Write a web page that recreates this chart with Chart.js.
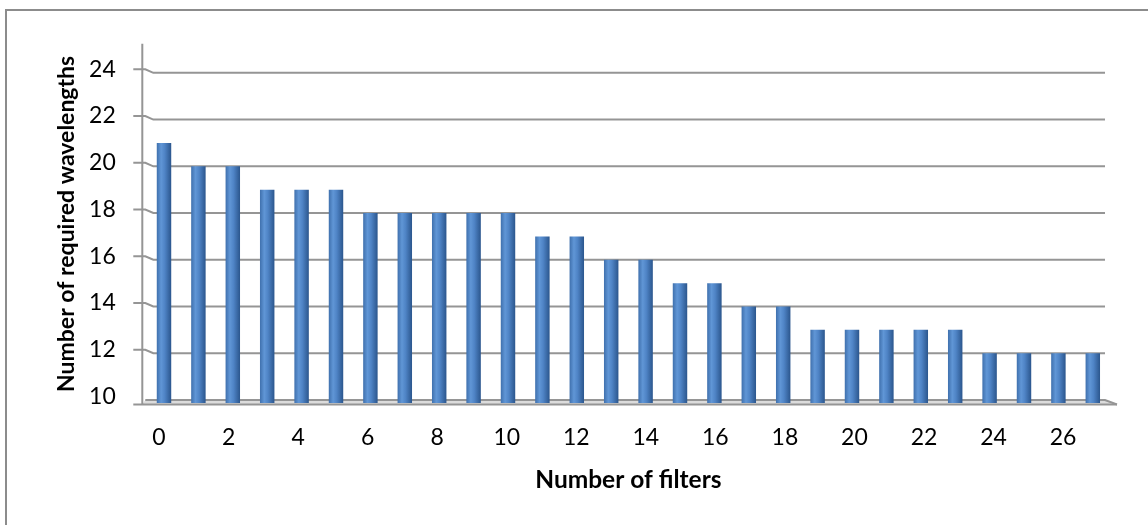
<!DOCTYPE html>
<html>
<head>
<meta charset="utf-8">
<script src="https://cdn.jsdelivr.net/npm/chart.js@4/dist/chart.umd.min.js"></script>
<style>
  html, body { margin: 0; padding: 0; background: #ffffff; }
  #wrap { width: 1148px; height: 525px; position: relative; }
</style>
</head>
<body>
<div id="wrap"><canvas id="chart" width="1148" height="525"></canvas></div>
<script>
// Number of filters (x) and required wavelengths (bar heights)
const filterCounts = [0,1,2,3,4,5,6,7,8,9,10,11,12,13,14,15,16,17,18,19,20,21,22,23,24,25,26,27];
const wavelengths  = [21,20,20,19,19,19,18,18,18,18,18,17,17,16,16,15,15,14,14,13,13,13,13,13,12,12,12,12];
const yTickValues  = [10,12,14,16,18,20,22,24];
const xTickValues  = [0,2,4,6,8,10,12,14,16,18,20,22,24,26];

const FONT = 'Lato, "Open Sans", "DejaVu Sans", sans-serif';
const GRID = '#959595';
const BAR_FRACTION = 0.42;

// white page with a grey outline
const framePlugin = {
  id: 'frame',
  beforeDraw(chart) {
    const ctx = chart.ctx;
    ctx.save();
    ctx.fillStyle = '#ffffff';
    ctx.fillRect(0, 0, chart.width, chart.height);
    ctx.strokeStyle = '#8c8c8c';
    ctx.lineWidth = 2;
    ctx.strokeRect(6, 10, chart.width + 20, chart.height + 20);
    ctx.restore();
  }
};

// back wall gridlines, value axis with depth ticks, and the floor slab
const wallPlugin = {
  id: 'wall',
  beforeDatasetsDraw(chart) {
    const ctx = chart.ctx;
    const ys = chart.scales.y;
    const area = chart.chartArea;
    const axisX = area.left - 4.5;
    const wallL = area.left + 6.5;
    const wallR = area.right - 5;
    ctx.save();
    ctx.lineCap = 'butt';
    ctx.strokeStyle = GRID;
    ctx.lineWidth = 2;

    yTickValues.forEach(v => {
      const py = ys.getPixelForValue(v);
      if (v === yTickValues[0]) return;
      ctx.beginPath();
      ctx.moveTo(axisX - 9, py - 3.5);
      ctx.lineTo(axisX + 3, py - 3.5);
      ctx.lineTo(wallL, py);
      ctx.lineTo(wallR, py);
      ctx.stroke();
    });

    // floor
    const back = ys.getPixelForValue(yTickValues[0]);
    const front = back + 4.5;
    ctx.fillStyle = '#dcdcdc';
    ctx.beginPath();
    ctx.moveTo(axisX + 3, back);
    ctx.lineTo(wallR, back);
    ctx.lineTo(wallR + 12, front);
    ctx.lineTo(axisX, front);
    ctx.closePath();
    ctx.fill();
    ctx.beginPath();
    ctx.moveTo(axisX + 3, back);
    ctx.lineTo(wallR, back);
    ctx.lineTo(wallR + 12, front);
    ctx.stroke();
    ctx.beginPath();
    ctx.moveTo(axisX - 9, front);
    ctx.lineTo(wallR + 12, front);
    ctx.stroke();

    // value axis line
    ctx.beginPath();
    ctx.moveTo(axisX, area.top - 1);
    ctx.lineTo(axisX, front);
    ctx.stroke();
    ctx.restore();
  }
};

// cylinder-like shading, built per bar from the category scale
function barShade(context) {
  const chart = context.chart;
  const xs = chart.scales.x;
  if (!xs || !chart.chartArea) return '#4f81bd';
  const cx = xs.getPixelForValue(context.dataIndex);
  const half = (xs.width / filterCounts.length) * BAR_FRACTION / 2;
  const g = chart.ctx.createLinearGradient(cx - half, 0, cx + half, 0);
  g.addColorStop(0, '#3f70ad');
  g.addColorStop(0.3, '#6096d6');
  g.addColorStop(0.55, '#4f84c6');
  g.addColorStop(1, '#2b568d');
  return g;
}

new Chart(document.getElementById('chart'), {
  type: 'bar',
  data: {
    labels: filterCounts,
    datasets: [{
      data: wavelengths,
      backgroundColor: barShade,
      borderWidth: 0,
      categoryPercentage: 1,
      barPercentage: BAR_FRACTION,
      xAxisID: 'x',
      yAxisID: 'y'
    }]
  },
  options: {
    responsive: false,
    animation: false,
    events: [],
    layout: { padding: { top: 41.2, right: 38, bottom: 0, left: 0 } },
    plugins: { legend: { display: false }, tooltip: { enabled: false } },
    scales: {
      x: {
        type: 'category',
        display: false,
        offset: true
      },
      xl: {
        type: 'linear',
        position: 'bottom',
        offset: false,
        bounds: 'data',
        min: -0.351,
        max: 27.35,
        afterBuildTicks(scale) { scale.ticks = xTickValues.map(v => ({ value: v })); },
        afterFit(scale) { scale.height = 122; },
        grid: { display: false, drawTicks: false, offset: false },
        border: { display: false },
        ticks: {
          color: '#000000',
          font: { family: FONT, size: 23 },
          padding: 21,
          autoSkip: false,
          maxRotation: 0,
          callback: v => String(v)
        },
        title: {
          display: true,
          text: 'Number of filters',
          color: '#000000',
          font: { family: FONT, size: 24.5, weight: 'bold' },
          padding: { top: 0, bottom: 30 }
        }
      },
      y: {
        type: 'linear',
        position: 'left',
        min: 9.87,
        max: 25.2,
        afterBuildTicks(scale) { scale.ticks = yTickValues.map(v => ({ value: v })); },
        afterFit(scale) { scale.width = 146.8; },
        grid: { display: false, drawTicks: false },
        border: { display: false },
        ticks: {
          color: '#000000',
          font: { family: FONT, size: 23 },
          padding: 31,
          labelOffset: -3.5,
          callback: v => String(v)
        },
        title: {
          display: true,
          text: 'Number of required wavelengths',
          color: '#000000',
          font: { family: FONT, size: 23, weight: 'bold' },
          padding: { top: 53, bottom: 0 }
        }
      }
    }
  },
  plugins: [framePlugin, wallPlugin]
});
</script>
</body>
</html>
